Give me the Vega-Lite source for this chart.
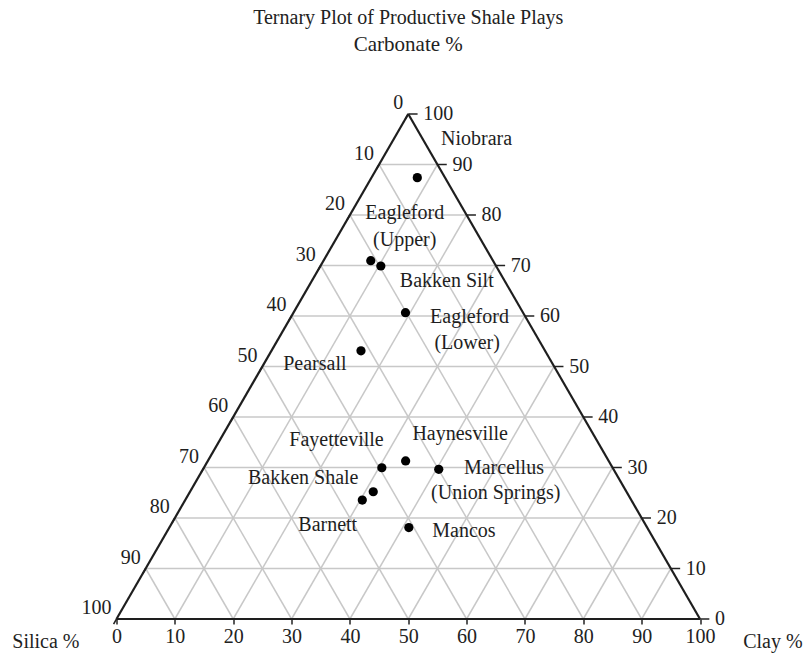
{
  "$schema": "https://vega.github.io/schema/vega-lite/v6.json",
  "width": 583.5,
  "height": 505,
  "autosize": "none",
  "padding": {"left": 116.5, "top": 114, "right": 109, "bottom": 38},
  "background": "white",
  "config": {"view": {"stroke": null}, "font": "Liberation Serif"},
  "title": {
    "text": "Ternary Plot of Productive Shale Plays",
    "subtitle": "Carbonate %",
    "anchor": "middle",
    "font": "Liberation Serif",
    "fontSize": 20,
    "fontWeight": "normal",
    "color": "#222222",
    "subtitleFont": "Liberation Serif",
    "subtitleFontSize": 21,
    "subtitleColor": "#222222",
    "subtitlePadding": 6,
    "offset": 38
  },
  "resolve": {"axis": {"x": "independent", "y": "independent"}},
  "datasets": {
    "grid": [
      {"x": 5, "y": 10, "x2": 95, "y2": 10}, {"x": 10, "y": 0, "x2": 55, "y2": 90}, {"x": 90, "y": 0, "x2": 45, "y2": 90},
      {"x": 10, "y": 20, "x2": 90, "y2": 20}, {"x": 20, "y": 0, "x2": 60, "y2": 80}, {"x": 80, "y": 0, "x2": 40, "y2": 80},
      {"x": 15, "y": 30, "x2": 85, "y2": 30}, {"x": 30, "y": 0, "x2": 65, "y2": 70}, {"x": 70, "y": 0, "x2": 35, "y2": 70},
      {"x": 20, "y": 40, "x2": 80, "y2": 40}, {"x": 40, "y": 0, "x2": 70, "y2": 60}, {"x": 60, "y": 0, "x2": 30, "y2": 60},
      {"x": 25, "y": 50, "x2": 75, "y2": 50}, {"x": 50, "y": 0, "x2": 75, "y2": 50}, {"x": 50, "y": 0, "x2": 25, "y2": 50},
      {"x": 30, "y": 60, "x2": 70, "y2": 60}, {"x": 60, "y": 0, "x2": 80, "y2": 40}, {"x": 40, "y": 0, "x2": 20, "y2": 40},
      {"x": 35, "y": 70, "x2": 65, "y2": 70}, {"x": 70, "y": 0, "x2": 85, "y2": 30}, {"x": 30, "y": 0, "x2": 15, "y2": 30},
      {"x": 40, "y": 80, "x2": 60, "y2": 80}, {"x": 80, "y": 0, "x2": 90, "y2": 20}, {"x": 20, "y": 0, "x2": 10, "y2": 20},
      {"x": 45, "y": 90, "x2": 55, "y2": 90}, {"x": 90, "y": 0, "x2": 95, "y2": 10}, {"x": 10, "y": 0, "x2": 5, "y2": 10}
    ],
    "edges": [
      {"x": 0, "y": 0, "x2": 100, "y2": 0},
      {"x": 0, "y": 0, "x2": 50, "y2": 100},
      {"x": 100, "y": 0, "x2": 50, "y2": 100}
    ],
    "ticks": [
      {"x": 100, "y": 0, "x2": 101.6, "y2": 0}, {"x": 95, "y": 10, "x2": 96.6, "y2": 10}, {"x": 90, "y": 20, "x2": 91.6, "y2": 20},
      {"x": 85, "y": 30, "x2": 86.6, "y2": 30}, {"x": 80, "y": 40, "x2": 81.6, "y2": 40}, {"x": 75, "y": 50, "x2": 76.6, "y2": 50},
      {"x": 70, "y": 60, "x2": 71.6, "y2": 60}, {"x": 65, "y": 70, "x2": 66.6, "y2": 70}, {"x": 60, "y": 80, "x2": 61.6, "y2": 80},
      {"x": 55, "y": 90, "x2": 56.6, "y2": 90}, {"x": 50, "y": 100, "x2": 51.6, "y2": 100},
      {"x": 0, "y": 0, "x2": -0.5, "y2": -1}, {"x": 5, "y": 10, "x2": 4.5, "y2": 9}, {"x": 10, "y": 20, "x2": 9.5, "y2": 19},
      {"x": 15, "y": 30, "x2": 14.5, "y2": 29}, {"x": 20, "y": 40, "x2": 19.5, "y2": 39}, {"x": 25, "y": 50, "x2": 24.5, "y2": 49},
      {"x": 30, "y": 60, "x2": 29.5, "y2": 59}, {"x": 35, "y": 70, "x2": 34.5, "y2": 69}, {"x": 40, "y": 80, "x2": 39.5, "y2": 79},
      {"x": 45, "y": 90, "x2": 44.5, "y2": 89}, {"x": 50, "y": 100, "x2": 49.5, "y2": 99}
    ],
    "rightLabels": [
      {"x": 100, "y": 0, "t": "0"}, {"x": 95, "y": 10, "t": "10"}, {"x": 90, "y": 20, "t": "20"}, {"x": 85, "y": 30, "t": "30"},
      {"x": 80, "y": 40, "t": "40"}, {"x": 75, "y": 50, "t": "50"}, {"x": 70, "y": 60, "t": "60"}, {"x": 65, "y": 70, "t": "70"},
      {"x": 60, "y": 80, "t": "80"}, {"x": 55, "y": 90, "t": "90"}, {"x": 50, "y": 100, "t": "100"}
    ],
    "leftLabels": [
      {"x": 0, "y": 0, "t": "100"}, {"x": 5, "y": 10, "t": "90"}, {"x": 10, "y": 20, "t": "80"}, {"x": 15, "y": 30, "t": "70"},
      {"x": 20, "y": 40, "t": "60"}, {"x": 25, "y": 50, "t": "50"}, {"x": 30, "y": 60, "t": "40"}, {"x": 35, "y": 70, "t": "30"},
      {"x": 40, "y": 80, "t": "20"}, {"x": 45, "y": 90, "t": "10"}, {"x": 50, "y": 100, "t": "0"}
    ],
    "samples": [
      {"silica": 4.75, "clay": 7.85, "carbonate": 87.4},
      {"silica": 20.95, "clay": 8.1, "carbonate": 70.95},
      {"silica": 19.75, "clay": 10.35, "carbonate": 69.9},
      {"silica": 20.15, "clay": 19.2, "carbonate": 60.65},
      {"silica": 31.55, "clay": 15.35, "carbonate": 53.1},
      {"silica": 39.55, "clay": 30.5, "carbonate": 29.95},
      {"silica": 34.8, "clay": 33.9, "carbonate": 31.3},
      {"silica": 29.95, "clay": 40.4, "carbonate": 29.65},
      {"silica": 43.4, "clay": 31.4, "carbonate": 25.2},
      {"silica": 46.1, "clay": 30.35, "carbonate": 23.55},
      {"silica": 40.85, "clay": 41.05, "carbonate": 18.1}
    ],
    "plays": [
      {"x": 61.7, "y": 95.0, "t": "Niobrara"},
      {"x": 49.4, "y": 80.4, "t": "Eagleford"},
      {"x": 49.4, "y": 75.0, "t": "(Upper)"},
      {"x": 56.6, "y": 67.0, "t": "Bakken Silt"},
      {"x": 60.5, "y": 59.8, "t": "Eagleford"},
      {"x": 60.1, "y": 54.65, "t": "(Lower)"},
      {"x": 34.0, "y": 50.5, "t": "Pearsall"},
      {"x": 37.7, "y": 35.4, "t": "Fayetteville"},
      {"x": 58.9, "y": 36.6, "t": "Haynesville"},
      {"x": 32.0, "y": 27.9, "t": "Bakken Shale"},
      {"x": 66.4, "y": 29.9, "t": "Marcellus"},
      {"x": 65.0, "y": 24.95, "t": "(Union Springs)"},
      {"x": 36.2, "y": 18.6, "t": "Barnett"},
      {"x": 59.55, "y": 17.4, "t": "Mancos"}
    ],
    "corners": [
      {"x": -12.1, "y": -4.6, "t": "Silica %"},
      {"x": 112.5, "y": -4.5, "t": "Clay %"}
    ]
  },
  "layer": [
    {
      "data": {"name": "grid"},
      "mark": {"type": "rule", "color": "#c8c8c8", "strokeWidth": 1.5},
      "encoding": {
        "x": {"field": "x", "type": "quantitative", "scale": {"domain": [0, 100], "nice": false, "zero": false},
          "axis": {"values": [0, 10, 20, 30, 40, 50, 60, 70, 80, 90, 100], "title": null, "domain": false, "grid": false,
            "ticks": true, "tickSize": 5, "tickWidth": 1.5, "tickColor": "#222222", "labelPadding": 2,
            "labelFont": "Liberation Serif", "labelFontSize": 20, "labelColor": "#222222", "labelFlush": false, "labelOverlap": false}},
        "y": {"field": "y", "type": "quantitative", "scale": {"domain": [0, 100], "nice": false, "zero": false}, "axis": null},
        "x2": {"field": "x2"},
        "y2": {"field": "y2"}
      }
    },
    {
      "data": {"name": "ticks"},
      "mark": {"type": "rule", "color": "#222222", "strokeWidth": 1.5},
      "encoding": {
        "x": {"field": "x", "type": "quantitative", "axis": null},
        "y": {"field": "y", "type": "quantitative", "axis": null},
        "x2": {"field": "x2"},
        "y2": {"field": "y2"}
      }
    },
    {
      "data": {"name": "edges"},
      "mark": {"type": "rule", "color": "#1e1e1e", "strokeWidth": 2.2},
      "encoding": {
        "x": {"field": "x", "type": "quantitative", "axis": null},
        "y": {"field": "y", "type": "quantitative", "axis": null},
        "x2": {"field": "x2"},
        "y2": {"field": "y2"}
      }
    },
    {
      "data": {"name": "samples"},
      "transform": [{"calculate": "datum.clay + datum.carbonate / 2", "as": "px"}],
      "mark": {"type": "circle", "color": "#000000", "opacity": 1, "size": 85},
      "encoding": {
        "x": {"field": "px", "type": "quantitative", "axis": null},
        "y": {"field": "carbonate", "type": "quantitative", "axis": null}
      }
    },
    {
      "data": {"name": "plays"},
      "mark": {"type": "text", "font": "Liberation Serif", "fontSize": 20, "color": "#1e1e1e", "align": "center", "baseline": "middle"},
      "encoding": {
        "x": {"field": "x", "type": "quantitative", "axis": null},
        "y": {"field": "y", "type": "quantitative", "axis": null},
        "text": {"field": "t"}
      }
    },
    {
      "data": {"name": "rightLabels"},
      "mark": {"type": "text", "font": "Liberation Serif", "fontSize": 20, "color": "#1e1e1e", "align": "left", "baseline": "middle", "dx": 15},
      "encoding": {
        "x": {"field": "x", "type": "quantitative", "axis": null},
        "y": {"field": "y", "type": "quantitative", "axis": null},
        "text": {"field": "t"}
      }
    },
    {
      "data": {"name": "leftLabels"},
      "mark": {"type": "text", "font": "Liberation Serif", "fontSize": 20, "color": "#1e1e1e", "align": "right", "baseline": "alphabetic", "dx": -5, "dy": -5},
      "encoding": {
        "x": {"field": "x", "type": "quantitative", "axis": null},
        "y": {"field": "y", "type": "quantitative", "axis": null},
        "text": {"field": "t"}
      }
    },
    {
      "data": {"name": "corners"},
      "mark": {"type": "text", "font": "Liberation Serif", "fontSize": 20, "color": "#1e1e1e", "align": "center", "baseline": "middle"},
      "encoding": {
        "x": {"field": "x", "type": "quantitative", "axis": null},
        "y": {"field": "y", "type": "quantitative", "axis": null},
        "text": {"field": "t"}
      }
    }
  ]
}
